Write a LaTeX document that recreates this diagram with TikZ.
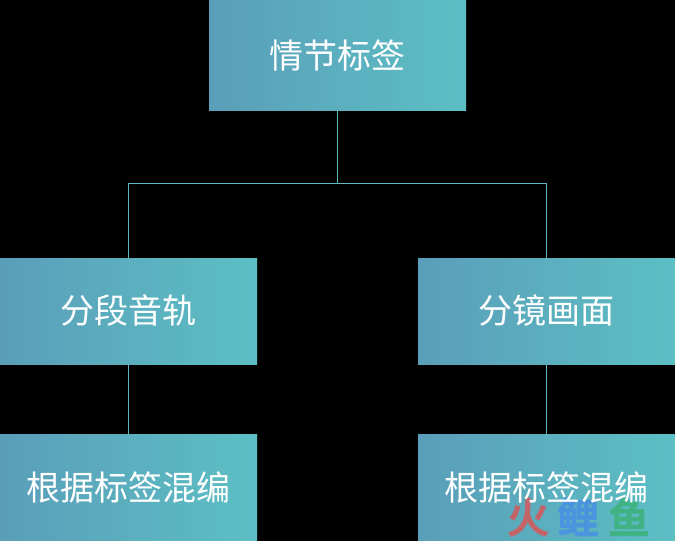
\documentclass[tikz,border=0pt]{standalone}
\usepackage{fontspec}
\newfontfamily\cjk{Noto Sans CJK SC}
\newfontfamily\cjkb{Noto Sans CJK SC}[FakeBold=5]
\definecolor{gradL}{HTML}{5A9EB9}
\definecolor{gradR}{HTML}{5CBFC4}
\definecolor{linkc}{HTML}{5FB8C0}
\definecolor{wmred}{HTML}{CC5F62}
\definecolor{wmblue}{HTML}{4A93E0}
\definecolor{wmgreen}{HTML}{3FB27F}
\newcommand{\lab}[1]{\raisebox{-1pt}{#1}}
\tikzset{
  labelfont/.style={text=white,font=\cjk\fontsize{34pt}{40pt}\selectfont},
  box/.style={rectangle,minimum width=257pt,inner sep=0pt,outer sep=0pt,left color=gradL,right color=gradR,labelfont},
  link/.style={draw=linkc,line width=1.1pt},
  wm/.style={inner sep=0pt,opacity=0.85,font=\cjkb\fontsize{41pt}{41pt}\selectfont}
}
\begin{document}
\begin{tikzpicture}[x=1pt,y=-1pt]
\useasboundingbox (0,0) rectangle (675,541);
\fill[black] (0,0) rectangle (675,541);
\coordinate (bus) at (337.5,183.5);
\node[box,minimum height=110pt] (top) at (337.5,55) {\lab{情节标签}};
\node[box,minimum height=106pt] (audio) at (128.5,311) {\lab{分段音轨}};
\node[box,minimum height=106pt] (video) at (546.5,311) {\lab{分镜画面}};
\node[box,minimum height=107pt] (mixl) at (128.5,487.5) {\lab{根据标签混编}};
\node[box,minimum height=107pt] (mixr) at (546.5,487.5) {};
\draw[link] (top) -- (bus);
\draw[link] (audio.north) |- (bus) -| (video.north);
\draw[link] (audio) -- (mixl);
\draw[link] (video) -- (mixr);
\node[wm,text=wmred] (wa) at (528,517) {火};
\node[wm,text=wmblue] (wb) at (578,517) {鲤};
\node[wm,text=wmgreen] (wc) at (629,517) {鱼};
\node[labelfont,inner sep=0pt] (mixrtext) at (mixr) {\lab{根据标签混编}};
\end{tikzpicture}
\end{document}
